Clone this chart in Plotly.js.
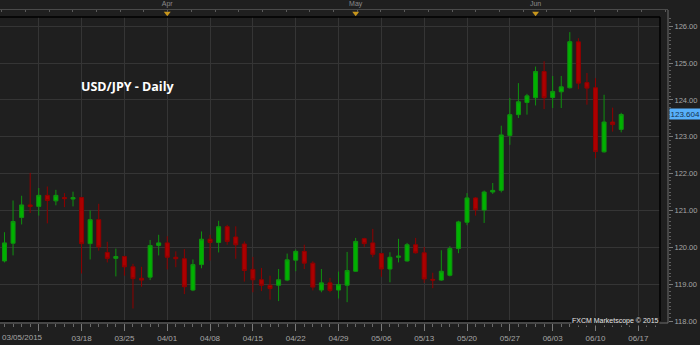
<!DOCTYPE html>
<html>
<head>
<meta charset="utf-8">
<script src="https://cdn.plot.ly/plotly-3.0.1.min.js"></script>
<style>
  html, body { margin: 0; padding: 0; background: #1f1f1f; }
  #chart { width: 700px; height: 345px; }
</style>
</head>
<body>
<div id="chart"></div>
<script>
// Trading days (weekdays) shown as candles
const dates = [
  '03/05','03/06','03/09','03/10','03/11','03/12','03/13','03/16','03/17','03/18',
  '03/19','03/20','03/23','03/24','03/25','03/26','03/27','03/30','03/31',
  '04/01','04/02','04/03','04/06','04/07','04/08','04/09','04/10','04/13','04/14',
  '04/15','04/16','04/17','04/20','04/21','04/22','04/23','04/24','04/27','04/28',
  '04/29','04/30',
  '05/01','05/04','05/05','05/06','05/07','05/08','05/11','05/12','05/13','05/14',
  '05/15','05/18','05/19','05/20','05/21','05/22','05/25','05/26','05/27','05/28','05/29',
  '06/01','06/02','06/03','06/04','06/05','06/08','06/09','06/10','06/11','06/12','06/15'
];
// Calendar of the axis continues past the last candle
const futureDays = ['06/16','06/17','06/18','06/19','06/22'];

const open = [
  119.63,120.11,120.81,121.15,121.11,121.41,121.26,121.35,121.31,121.35,
  120.10,120.75,119.86,119.70,119.75,119.47,119.16,119.19,120.05,
  120.12,119.73,119.69,118.84,119.53,120.22,120.13,120.56,120.28,120.09,
  119.40,119.12,118.97,118.97,119.11,119.65,119.89,119.57,118.84,119.035,
  118.84,118.97,
  119.35,120.235,120.12,119.83,119.41,119.73,119.63,120.07,119.85,119.13,
  119.11,119.24,119.965,120.68,121.34,121.01,121.50,121.545,123.035,123.60,123.93,
  124.06,124.77,124.065,124.22,124.33,125.575,124.47,124.33,122.59,123.40,123.20
];
const high = [
  120.41,121.27,121.40,122.02,121.61,121.65,121.56,121.47,121.51,121.37,
  121.00,121.18,120.15,119.965,119.77,119.55,119.47,120.20,120.34,
  120.30,119.89,119.95,119.67,120.43,120.34,120.72,120.61,120.57,120.16,
  119.74,119.44,119.23,119.41,119.83,119.94,120.07,119.62,119.41,119.17,
  119.34,119.875,
  120.255,120.26,120.50,119.85,119.865,120.23,120.12,120.255,120.01,119.31,
  119.92,120.03,120.72,121.47,121.36,121.54,121.745,123.30,124.05,124.455,124.165,
  124.905,125.05,124.65,124.65,125.84,125.675,124.73,124.59,124.14,123.79,123.65
];
const low = [
  119.59,119.78,120.62,120.93,120.86,120.65,121.14,121.09,121.11,119.29,
  119.67,119.91,119.59,119.21,119.23,118.34,118.93,119.11,119.78,
  119.40,119.46,118.73,118.81,119.43,119.64,119.86,120.07,119.69,119.07,
  118.78,118.81,118.58,118.54,119.08,119.35,119.41,118.83,118.78,118.78,
  118.61,118.51,
  119.34,120.01,119.73,119.20,119.05,119.59,119.61,119.83,119.035,118.89,
  119.09,119.21,119.84,120.60,120.86,120.66,121.45,121.49,122.78,123.51,123.60,
  123.85,123.75,123.78,123.78,124.31,124.29,123.87,122.42,122.57,123.14,123.12
];
const close = [
  120.12,120.70,121.15,121.11,121.41,121.27,121.41,121.32,121.35,120.10,
  120.75,120.01,119.70,119.75,119.47,119.15,119.11,120.05,120.12,
  119.73,119.69,118.93,119.53,120.22,120.13,120.56,120.16,120.07,119.37,
  119.12,118.97,118.88,119.12,119.66,119.89,119.57,118.92,119.035,118.83,
  118.99,119.37,
  120.16,120.10,119.81,119.41,119.73,119.76,120.07,119.85,119.14,119.11,
  119.35,119.965,120.69,121.34,121.02,121.50,121.545,123.05,123.60,123.95,124.11,
  124.77,124.06,124.23,124.355,125.58,124.455,124.32,122.60,123.40,123.33,123.604
];

// Axis labels
const firstDateLabel = '03/05/2015';
const weekTicks = ['03/11','03/18','03/25','04/01','04/08','04/15','04/22','04/29',
                   '05/06','05/13','05/20','05/27','06/03','06/10','06/17'];
const hiddenWeekLabels = ['03/11'];
const monthStarts = ['04/01','05/01','06/01'];
const monthLabels = ['Apr','May','Jun'];
const chartTitle = 'USD/JPY - Daily';
const copyright = 'FXCM Marketscope \u00A9 2015';
const priceTicks = [118,119,120,121,122,123,124,125,126];

const axisDays = dates.concat(futureDays);
const idx = d => axisDays.indexOf(d);
const xs = dates.map((d, i) => i);

const tickFont = {family: 'Liberation Sans, Arial, sans-serif', size: 8, color: '#a6a6a6'};
const gridColor = '#353535';
const bg = '#1f1f1f';

const candle = {
  type: 'candlestick',
  x: xs, open: open, high: high, low: low, close: close,
  xaxis: 'x', yaxis: 'y',
  increasing: {line: {color: '#0f920f', width: 1}, fillcolor: '#00b200'},
  decreasing: {line: {color: '#900000', width: 1}, fillcolor: '#ab0000'},
  whiskerwidth: 0,
  hoverinfo: 'skip',
  showlegend: false
};

const markers = {
  type: 'scatter', mode: 'markers',
  x: monthStarts.map(idx), y: monthStarts.map(() => 0.55),
  xaxis: 'x2', yaxis: 'y2',
  marker: {symbol: 'triangle-down', size: 6, color: '#c8961c', line: {width: 0}},
  cliponaxis: false, hoverinfo: 'skip', showlegend: false
};

const PW = 668, PH = 313;   // paper size in px (700-32, 345-10-22)
const fx = px => px / PW;             // px from left -> paper x
const fy = py => (323 - py) / PH;     // px from top -> paper y

const layout = {
  width: 700, height: 345,
  margin: {l: 0, r: 32, t: 10, b: 22, pad: 0},
  paper_bgcolor: bg, plot_bgcolor: bg,
  showlegend: false,
  boxgap: 0.33,
  xaxis: {
    domain: [0, fx(660)],
    range: [-0.525, 76.53],
    anchor: 'free', position: 0,
    tickmode: 'array',
    tickvals: weekTicks.map(idx),
    ticktext: weekTicks.map(d => hiddenWeekLabels.includes(d) ? '' : d),
    ticks: 'outside', ticklen: 7, tickcolor: '#7a7a7a', tickwidth: 1,
    minor: {tickmode: 'linear', tick0: 0, dtick: 1, ticks: 'outside', ticklen: 3, tickcolor: '#6a6a6a', showgrid: false},
    showline: false,
    showgrid: true, gridcolor: gridColor, gridwidth: 1,
    zeroline: false,
    tickfont: tickFont,
    rangeslider: {visible: false},
    fixedrange: true
  },
  yaxis: {
    domain: [fy(321), fy(17)],
    range: [118.0, 126.25],
    anchor: 'free', position: 1, side: 'right',
    tickmode: 'array', tickvals: priceTicks, ticktext: priceTicks.map(v => v.toFixed(2)),
    ticks: 'outside', ticklen: 4, tickcolor: '#7a7a7a',
    minor: {tickmode: 'linear', tick0: 118, dtick: 0.1, ticks: 'outside', ticklen: 2, tickcolor: '#5e5e5e', showgrid: false},
    showline: false,
    showgrid: true, gridcolor: gridColor, gridwidth: 1,
    zeroline: false,
    tickfont: {family: tickFont.family, size: 7.5, color: '#a6a6a6'},
    fixedrange: true
  },
  xaxis2: {
    domain: [0, 1],
    range: [-0.525, 77.46],
    anchor: 'y2', side: 'top',
    tickmode: 'array', tickvals: monthStarts.map(idx), ticktext: monthLabels,
    ticks: '', ticklen: 0,
    minor: {tickmode: 'linear', tick0: -0.327, dtick: 2.767, ticks: 'inside', ticklen: 2, tickcolor: '#5a5a5a', showgrid: false},
    showline: true, linecolor: '#4a4a4a', linewidth: 1,
    showgrid: false, zeroline: false,
    tickfont: {family: tickFont.family, size: 7, color: '#8a8a8a'},
    fixedrange: true
  },
  yaxis2: {
    domain: [fy(17), 1], range: [0, 1], anchor: 'x2',
    visible: false, fixedrange: true
  },
  shapes: [
    // plot frame (black)
    {type: 'line', xref: 'paper', yref: 'paper', x0: 0, x1: fx(660), y0: fy(17), y1: fy(17), line: {color: '#000000', width: 1.5}},
    {type: 'line', xref: 'paper', yref: 'paper', x0: fx(660), x1: fx(660), y0: fy(321), y1: fy(17), line: {color: '#000000', width: 1.5}},
    {type: 'line', xref: 'paper', yref: 'paper', x0: 0, x1: fx(660), y0: fy(321), y1: fy(321), line: {color: '#000000', width: 1.5}},
    // grey axis lines
    {type: 'line', xref: 'paper', yref: 'paper', x0: 0, x1: 1, y0: 0, y1: 0, line: {color: '#6e6e6e', width: 1}},
    {type: 'line', xref: 'paper', yref: 'paper', x0: 1, x1: 1, y0: 0, y1: 1, line: {color: '#6e6e6e', width: 1}}
  ],
  annotations: [
    {text: '<b>' + chartTitle + '</b>', xref: 'paper', yref: 'paper',
     x: fx(79), y: fy(86), xanchor: 'left', yanchor: 'middle', showarrow: false,
     font: {family: 'Open Sans, sans-serif', size: 12.5, color: '#ffffff'}},
    {text: firstDateLabel, xref: 'paper', yref: 'paper',
     x: 0, y: fy(337.5), xanchor: 'left', yanchor: 'middle', showarrow: false,
     font: tickFont},
    {text: copyright, xref: 'paper', yref: 'paper',
     x: fx(660), y: fy(320.5), xanchor: 'right', yanchor: 'middle', showarrow: false,
     bgcolor: bg, borderpad: 0,
     font: {family: tickFont.family, size: 7, color: '#e6e6e6'}},
    {text: close[close.length - 1].toFixed(3), xref: 'paper', yref: 'y',
     x: 1, y: close[close.length - 1], xanchor: 'left', yanchor: 'middle', showarrow: false,
     xshift: 1, bgcolor: '#58b0fa', borderpad: 0.5,
     font: {family: tickFont.family, size: 8, color: '#16324e'}}
  ]
};

Plotly.newPlot('chart', [candle, markers], layout, {staticPlot: true, displayModeBar: false});
</script>
</body>
</html>
